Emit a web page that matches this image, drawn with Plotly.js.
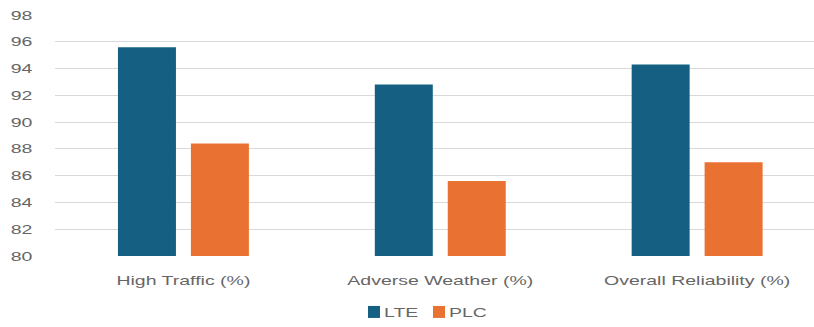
<!DOCTYPE html>
<html>
<head>
<meta charset="utf-8">
<script src="https://cdn.plot.ly/plotly-3.0.1.min.js"></script>
<style>html,body{margin:0;padding:0;background:#fff;}#chart{width:814px;height:327px;}</style>
</head>
<body>
<div id="chart"></div>
<script>
const categories = ["High Traffic (%)", "Adverse Weather (%)", "Overall Reliability (%)"];
const lteValues = [95.6, 92.8, 94.3];
const plcValues = [88.4, 85.6, 87.0];
const yTicks = [80, 82, 84, 86, 88, 90, 92, 94, 96, 98];

const font = "Liberation Sans, Arial, sans-serif";
const textColor = "#666666";
const data = [
  {type: "bar", name: "LTE", x: categories, y: lteValues, marker: {color: "#156082"}},
  {type: "bar", name: "PLC", x: categories, y: plcValues, marker: {color: "#E97132"}}
];
const layout = {
  width: 814, height: 327,
  margin: {l: 54.5, r: 0, t: 15, b: 68},
  paper_bgcolor: "#fff", plot_bgcolor: "#fff",
  barmode: "group", bargap: 0.432, bargroupgap: 0.205,
  font: {family: font, size: 13, color: textColor},
  xaxis: {
    range: [-0.5, 2.455], showgrid: false, zeroline: false,
    ticks: "outside", ticklen: 12, tickcolor: "rgba(0,0,0,0)",
    tickfont: {size: 13, color: textColor}
  },
  yaxis: {
    range: [80, 98], tickvals: yTicks, ticktext: yTicks.map(String),
    showgrid: true, gridcolor: "#d9d9d9", gridwidth: 1, zeroline: false,
    ticks: "outside", ticklen: 19, tickcolor: "rgba(0,0,0,0)",
    tickfont: {size: 13, color: textColor}
  },
  showlegend: true,
  legend: {orientation: "h", x: 0.4796, xanchor: "center", y: -0.234, yanchor: "middle",
    font: {size: 13, color: textColor}, entrywidth: 20, entrywidthmode: "pixels",
    traceorder: "normal"}
};
Plotly.newPlot("chart", data, layout, {displayModeBar: false, staticPlot: true}).then(function(gd){
  gd.querySelectorAll(".legendtext").forEach(function(t){ t.setAttribute("x", 30); });
  // widen the glyphs horizontally, like the reference's stretched typeface
  const sel = gd.querySelectorAll(".xtick text, .ytick text, .legendtext");
  sel.forEach(function(t){
    const x = parseFloat(t.getAttribute("x") || 0);
    const y = parseFloat(t.getAttribute("y") || 0);
    const tr = t.getAttribute("transform") || "";
    t.setAttribute("transform", tr + " translate(" + x + "," + y + ") scale(1.5,1) translate(" + (-x) + "," + (-y) + ")");
  });
  gd.querySelectorAll(".legend [clip-path]").forEach(function(el){ el.removeAttribute("clip-path"); });
});
</script>
</body>
</html>
